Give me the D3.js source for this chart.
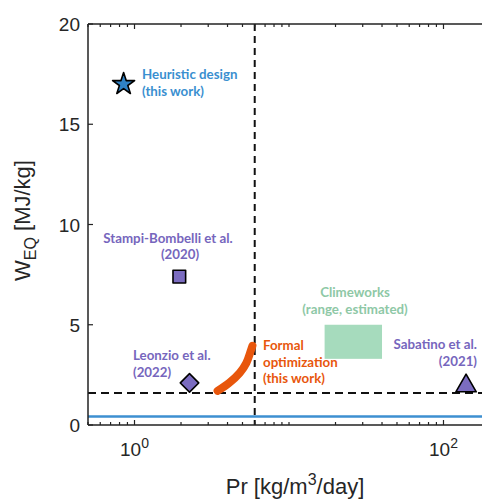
<!DOCTYPE html>
<html>
<head>
<meta charset="utf-8">
<script src="https://cdn.jsdelivr.net/npm/d3@7"></script>
<style>
  body { margin: 0; background: #fff; }
  text { font-family: "Liberation Sans", Arial, sans-serif; }
  .note { font-family: Lato, "Open Sans", sans-serif; font-weight: bold; font-size: 13.3px; }
</style>
</head>
<body>
<div class="svg-canvas"></div>
<script>
// data
var pointNames = ["Heuristic design", "Stampi-Bombelli", "Leonzio", "Sabatino"];
var pointPr = [0.85, 1.95, 2.27, 140];
var pointW = [17, 7.4, 2.1, 1.95];

var curvePr = [3.45, 4.1, 4.8, 5.3, 5.6, 5.8];
var curveW = [1.7, 2.1, 2.6, 3.1, 3.6, 3.95];

var climeworksPr = [17, 40];
var climeworksW = [3.3, 5.0];

var refPr = 6;      // vertical dashed line
var refW = 1.6;     // horizontal dashed line
var blueW = 0.43;   // blue baseline

var yTicks = [0, 5, 10, 15, 20];
var xMajor = [1, 100];

var ch = {};
ch.margin = {top: 24, left: 88, right: -8, bottom: 74};
ch.width = 482 - ch.margin.left - ch.margin.right;
ch.height = 499 - ch.margin.top - ch.margin.bottom;

var svg = d3.select(".svg-canvas").append("svg")
    .attr("width", 482)
    .attr("height", 499);

var g = svg.append("g")
    .attr("transform", "translate(" + ch.margin.left + "," + ch.margin.top + ")");

var x = d3.scaleLog().domain([0.5, 200]).range([0, ch.width]);
var y = d3.scaleLinear().domain([0, 20]).range([ch.height, 0]);

// minor log ticks
var minor = [];
[0.1, 1, 10, 100].forEach(function(dec) {
    for (var k = 1; k < 10; k++) {
        var v = dec * k;
        if (v >= 0.5 && v <= 200 && xMajor.indexOf(v) < 0) minor.push(v);
    }
});

// blue line
g.append("line")
    .attr("x1", 0).attr("x2", ch.width + 20)
    .attr("y1", y(blueW)).attr("y2", y(blueW))
    .attr("stroke", "#3d8fd1").attr("stroke-width", 2.5);

// dashed reference lines
g.append("line")
    .attr("x1", 0).attr("x2", ch.width + 20)
    .attr("y1", y(refW)).attr("y2", y(refW))
    .attr("stroke", "#111").attr("stroke-width", 2)
    .attr("stroke-dasharray", "8,5");
g.append("line")
    .attr("x1", x(refPr)).attr("x2", x(refPr))
    .attr("y1", 0).attr("y2", ch.height)
    .attr("stroke", "#111").attr("stroke-width", 2)
    .attr("stroke-dasharray", "7,5");

// climeworks box
g.append("rect")
    .attr("x", x(climeworksPr[0]))
    .attr("y", y(climeworksW[1]))
    .attr("width", x(climeworksPr[1]) - x(climeworksPr[0]))
    .attr("height", y(climeworksW[0]) - y(climeworksW[1]))
    .attr("fill", "#a6dbbd");

// formal optimization curve
var curve = curvePr.map(function(d, i) { return [d, curveW[i]]; });
g.append("path")
    .datum(curve)
    .attr("d", d3.line()
        .x(function(d) { return x(d[0]); })
        .y(function(d) { return y(d[1]); })
        .curve(d3.curveCatmullRom))
    .attr("fill", "none")
    .attr("stroke", "#e8560c")
    .attr("stroke-width", 8)
    .attr("stroke-linecap", "round");

// markers
var symbols = [
    {type: d3.symbolStar, size: 150, fill: "#2f82c6", rot: 0},
    {type: d3.symbolSquare, size: 160, fill: "#7b6cc0", rot: 0},
    {type: d3.symbolSquare, size: 170, fill: "#7b6cc0", rot: 45},
    {type: d3.symbolTriangle, size: 180, fill: "#7b6cc0", rot: 0}
];
g.selectAll("path.mk")
    .data(pointNames)
    .enter()
    .append("path")
    .attr("class", "mk")
    .attr("d", function(d, i) { return d3.symbol().type(symbols[i].type).size(symbols[i].size)(); })
    .attr("transform", function(d, i) {
        return "translate(" + x(pointPr[i]) + "," + y(pointW[i]) + ") rotate(" + symbols[i].rot + ")";
    })
    .attr("fill", function(d, i) { return symbols[i].fill; })
    .attr("stroke", "#000")
    .attr("stroke-width", 1.6)
    .attr("stroke-linejoin", "round");

// axis box (left, bottom, top)
g.append("line").attr("x1", 0).attr("x2", 0).attr("y1", 0).attr("y2", ch.height)
    .attr("stroke", "#222").attr("stroke-width", 1.5);
g.append("line").attr("x1", 0).attr("x2", ch.width).attr("y1", ch.height).attr("y2", ch.height)
    .attr("stroke", "#222").attr("stroke-width", 1.5);
g.append("line").attr("x1", 0).attr("x2", ch.width).attr("y1", 0).attr("y2", 0)
    .attr("stroke", "#222").attr("stroke-width", 1.5);

// y ticks
g.selectAll("line.yt").data(yTicks).enter().append("line")
    .attr("x1", 0).attr("x2", 5)
    .attr("y1", function(d) { return y(d); }).attr("y2", function(d) { return y(d); })
    .attr("stroke", "#222").attr("stroke-width", 1.2);
g.selectAll("text.yl").data(yTicks).enter().append("text")
    .attr("x", -8).attr("y", function(d) { return y(d) + 7; })
    .attr("text-anchor", "end")
    .attr("font-size", 19)
    .attr("fill", "#262626")
    .text(function(d) { return d; });

// x ticks, bottom and top
[ch.height, 0].forEach(function(y0) {
    var dir = y0 === 0 ? 1 : -1;
    g.selectAll(null).data(minor).enter().append("line")
        .attr("x1", function(d) { return x(d); }).attr("x2", function(d) { return x(d); })
        .attr("y1", y0).attr("y2", y0 + dir * 3)
        .attr("stroke", "#222").attr("stroke-width", 1.2);
    g.selectAll(null).data(xMajor).enter().append("line")
        .attr("x1", function(d) { return x(d); }).attr("x2", function(d) { return x(d); })
        .attr("y1", y0).attr("y2", y0 + dir * 5)
        .attr("stroke", "#222").attr("stroke-width", 1.2);
});
var xl = g.selectAll("text.xl").data(xMajor).enter().append("text")
    .attr("x", function(d) { return x(d); })
    .attr("y", ch.height + 31)
    .attr("text-anchor", "middle")
    .attr("font-size", 19)
    .attr("fill", "#262626");
xl.append("tspan").text("10");
xl.append("tspan").attr("dy", -8).attr("font-size", 14)
    .text(function(d) { return Math.round(Math.log10(d)); });

// axis titles
var yt = svg.append("text")
    .attr("transform", "translate(30," + (ch.margin.top + ch.height / 2 - 4) + ") rotate(-90)")
    .attr("text-anchor", "middle")
    .attr("font-size", 22)
    .attr("fill", "#262626");
yt.append("tspan").text("W");
yt.append("tspan").attr("dy", 6).attr("font-size", 16).text("EQ");
yt.append("tspan").attr("dy", -6).text(" [MJ/kg]");

var xt = svg.append("text")
    .attr("x", 295).attr("y", 494)
    .attr("text-anchor", "middle")
    .attr("font-size", 22)
    .attr("fill", "#262626");
xt.append("tspan").text("Pr [kg/m");
xt.append("tspan").attr("dy", -9).attr("font-size", 16).text("3");
xt.append("tspan").attr("dy", 9).text("/day]");

// annotations
var notes = [
    {lines: ["Heuristic design", "(this work)"], x: 142, y: 79, anchor: "start", color: "#3a8fd0"},
    {lines: ["Stampi-Bombelli et al."], x: 168, y: 243, anchor: "middle", color: "#7666bd"},
    {lines: ["(2020)"], x: 180, y: 259, anchor: "middle", color: "#7666bd"},
    {lines: ["Leonzio et al.", "(2022)"], x: 133, y: 360, anchor: "start", color: "#7666bd"},
    {lines: ["Climeworks", "(range, estimated)"], x: 355, y: 297, anchor: "middle", color: "#8ec8a6"},
    {lines: ["Formal", "optimization", "(this work)"], x: 263, y: 350, anchor: "start", color: "#e8560c"},
    {lines: ["Sabatino et al.", "(2021)"], x: 477, y: 349, anchor: "end", color: "#7666bd"}
];
notes.forEach(function(n) {
    var t = svg.append("text")
        .attr("class", "note")
        .attr("text-anchor", n.anchor)
        .attr("fill", n.color);
    n.lines.forEach(function(s, i) {
        t.append("tspan").attr("x", n.x).attr("y", n.y + i * 16.5).text(s);
    });
});
</script>
</body>
</html>
